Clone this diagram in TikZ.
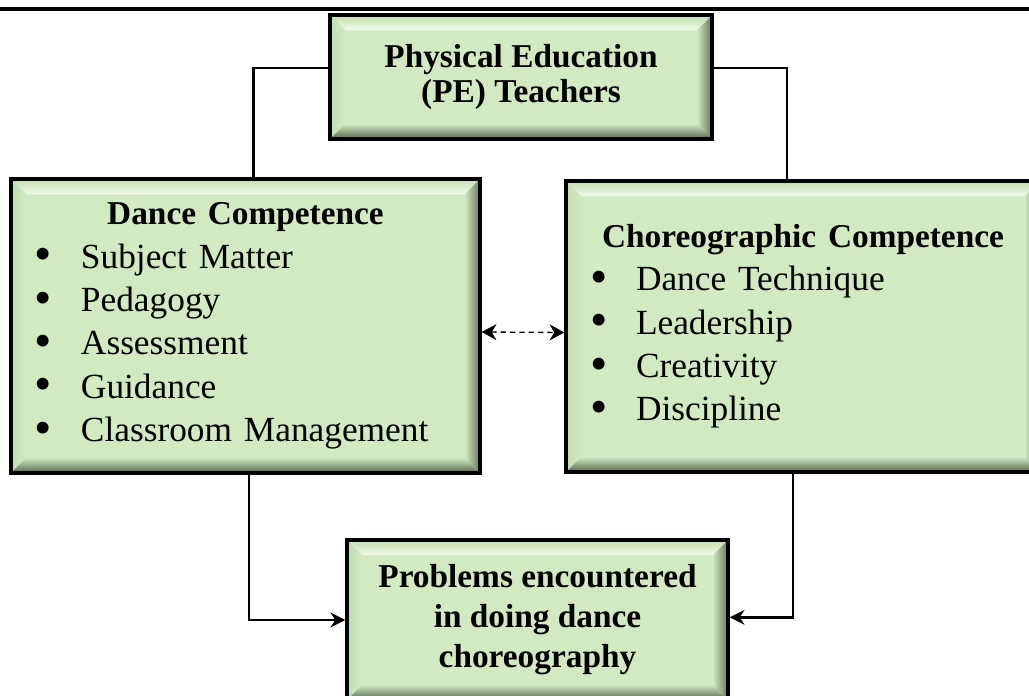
\documentclass[tikz,border=0pt]{standalone}
\usepackage{fontspec}
\setmainfont{Liberation Serif}
\usepackage{tikz}
\usetikzlibrary{arrows.meta, calc}

\definecolor{face}{HTML}{D2EAC2}
\definecolor{bevtop}{HTML}{F1FCE9}
\definecolor{bevleft}{HTML}{C2DDB0}
\definecolor{bevbot}{HTML}{56654E}
\definecolor{bevright}{HTML}{65765C}

\newcommand{\bev}{11.5pt}
\newcommand{\itm}[1]{\makebox[34.5pt][l]{\smash{\raisebox{-2pt}{\scalebox{1.4}{\textbullet}}}}#1\par}

\tikzset{
  bevelbox/.style={draw=black, line width=2.6pt, fill=face, inner sep=0pt,
    path picture={
      \path (path picture bounding box.south west) coordinate (bb1)
            (path picture bounding box.north east) coordinate (bb2);
      \shade[top color=bevleft, bottom color=bevtop] (bb1 |- bb2) -- (bb2) -- ([shift={(-\bev,-\bev)}]bb2) -- ([shift={(\bev,-\bev)}]bb1 |- bb2) -- cycle;
      \shade[left color=bevleft, right color=face] (bb1) -- (bb1 |- bb2) -- ([shift={(\bev,-\bev)}]bb1 |- bb2) -- ([shift={(\bev,\bev)}]bb1) -- cycle;
      \shade[top color=face, bottom color=bevbot] (bb1) -- (bb2 |- bb1) -- ([shift={(-\bev,\bev)}]bb2 |- bb1) -- ([shift={(\bev,\bev)}]bb1) -- cycle;
      \shade[left color=face, right color=bevright] (bb2 |- bb1) -- (bb2) -- ([shift={(-\bev,-\bev)}]bb2) -- ([shift={(-\bev,\bev)}]bb2 |- bb1) -- cycle;
    }},
  headbox/.style={bevelbox, align=center, font=\fontsize{25}{26.5}\selectfont\bfseries},
  listbox/.style={bevelbox, align=left, inner xsep=18pt, font=\fontsize{26.5}{32.5}\selectfont},
  link/.style={line width=1.8pt, -{Stealth[length=11pt, width=11pt, inset=3.5pt]}},
  dashlink/.style={line width=1pt, dash pattern=on 4pt off 3pt, {Stealth[length=11pt, width=12pt, inset=3.5pt]}-{Stealth[length=11pt, width=12pt, inset=3.5pt]}}
}

\begin{document}
\begin{tikzpicture}[x=0.75pt, y=-0.75pt]
\clip (0,0) rectangle (1029,696);
\draw[line width=2.4pt] (0,9) -- (1029,9);

\node[headbox, minimum width=286.5pt, minimum height=93pt] (pe) at (521,77) {Physical Education\\(PE) Teachers};

\node[listbox, text width=315.75pt, minimum height=220.5pt] (dance) at (245.5,326) {%
  {\centering\bfseries\fontsize{25}{33.75}\selectfont Dance Competence\par}
  \itm{Subject Matter}
  \itm{Pedagogy}
  \itm{Assessment}
  \itm{Guidance}
  \itm{Classroom Management}};

\node[listbox, text width=319.5pt, minimum height=218.25pt] (choreo) at (803,326.5) {%
  {\centering\bfseries\fontsize{25}{33.75}\selectfont Choreographic Competence\par}
  \itm{Dance Technique}
  \itm{Leadership}
  \itm{Creativity}
  \itm{Discipline}};

\node[headbox, font=\fontsize{25}{30}\selectfont\bfseries, minimum width=285.75pt, minimum height=120pt] (prob) at (537.5,620) {Problems encountered\\in doing dance\\choreography};

% links
\draw[line width=1.8pt] ([yshift=6.75pt]pe.west) -| ([xshift=6pt]dance.north);
\draw[line width=1.8pt] ([yshift=6.75pt]pe.east) -| ([xshift=-12pt]choreo.north);
\draw[dashlink] ([yshift=-4.5pt]dance.east) -- ([yshift=-4.5pt]choreo.west);
\draw[link] ([xshift=2.5pt]dance.south) |- (prob.west);
\draw[link] ([xshift=-7.5pt]choreo.south) |- ([yshift=2pt]prob.east);
\end{tikzpicture}
\end{document}
